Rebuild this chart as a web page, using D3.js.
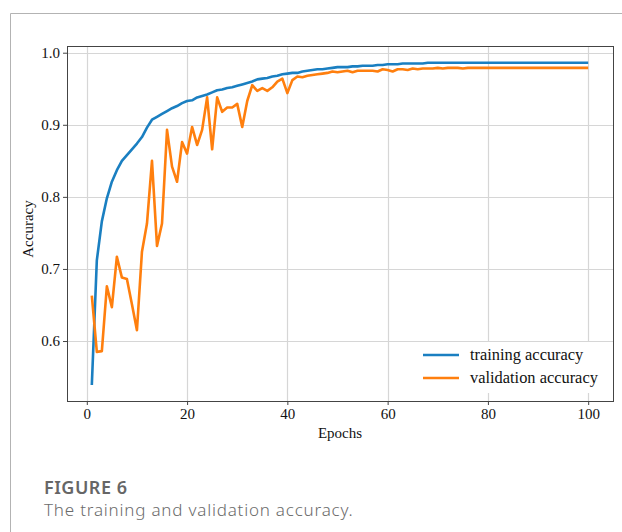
<!DOCTYPE html>
<html>
<head>
<meta charset="utf-8">
<script src="https://cdn.jsdelivr.net/npm/d3@7"></script>
<style>
  html, body { margin: 0; padding: 0; background: #fff; }
  svg { display: block; }
</style>
</head>
<body>
<div class="chart"></div>
<script>
'use strict';

/* data */
var epochs = d3.range(1, 101);

var trainAcc = [
  0.539, 0.712, 0.766, 0.798, 0.821, 0.837, 0.850, 0.858, 0.866, 0.874,
  0.883, 0.896, 0.907, 0.911, 0.915, 0.919, 0.923, 0.926, 0.930, 0.933,
  0.934, 0.938, 0.940, 0.942, 0.945, 0.948, 0.949, 0.951, 0.952, 0.954,
  0.956, 0.958, 0.960, 0.963, 0.964, 0.965, 0.967, 0.968, 0.970, 0.971,
  0.972, 0.972, 0.974, 0.975, 0.976, 0.977, 0.977, 0.978, 0.979, 0.980,
  0.980, 0.980, 0.981, 0.981, 0.982, 0.982, 0.982, 0.983, 0.983, 0.984,
  0.984, 0.984, 0.985, 0.985, 0.985, 0.985, 0.985, 0.986, 0.986, 0.986,
  0.986, 0.986, 0.986, 0.986, 0.986, 0.986, 0.986, 0.986, 0.986, 0.986,
  0.986, 0.986, 0.986, 0.986, 0.986, 0.986, 0.986, 0.986, 0.986, 0.986,
  0.986, 0.986, 0.986, 0.986, 0.986, 0.986, 0.986, 0.986, 0.986, 0.986
];

var valAcc = [
  0.663, 0.585, 0.586, 0.676, 0.647, 0.717, 0.688, 0.686, 0.651, 0.615,
  0.724, 0.763, 0.850, 0.732, 0.763, 0.893, 0.842, 0.821, 0.876, 0.860,
  0.897, 0.872, 0.893, 0.938, 0.866, 0.938, 0.918, 0.924, 0.924, 0.929,
  0.897, 0.933, 0.955, 0.947, 0.951, 0.947, 0.952, 0.960, 0.964, 0.944,
  0.962, 0.967, 0.966, 0.968, 0.969, 0.970, 0.971, 0.972, 0.974, 0.973,
  0.974, 0.975, 0.973, 0.975, 0.975, 0.975, 0.975, 0.974, 0.977, 0.976,
  0.974, 0.977, 0.977, 0.976, 0.978, 0.977, 0.978, 0.978, 0.978, 0.979,
  0.978, 0.979, 0.979, 0.979, 0.978, 0.979, 0.979, 0.979, 0.979, 0.979,
  0.979, 0.979, 0.979, 0.979, 0.979, 0.979, 0.979, 0.979, 0.979, 0.979,
  0.979, 0.979, 0.979, 0.979, 0.979, 0.979, 0.979, 0.979, 0.979, 0.979
];

var xTicks = [0, 20, 40, 60, 80, 100];
var yTicks = [0.6, 0.7, 0.8, 0.9, 1.0];

var seriesNames = ['training accuracy', 'validation accuracy'];
var seriesColors = ['#1a7fc1', '#ff7f0e'];

/* layout */
var width = 622,
    height = 532;
var plot = { left: 67, right: 613, top: 46, bottom: 401 };
var serif = '"Liberation Serif", "DejaVu Serif", serif';

var svg = d3.select('.chart')
  .append('svg')
  .attr('width', width)
  .attr('height', height);

// card frame (top + left)
svg.append('path')
  .attr('d', 'M10.5,532 L10.5,13.5 L622,13.5')
  .attr('fill', 'none')
  .attr('stroke', '#b3b3b3')
  .attr('stroke-width', 1);

var x = d3.scaleLinear().domain([-3.95, 104.95]).range([plot.left, plot.right]);
var y = d3.scaleLinear().domain([0.5168, 1.0093]).range([plot.bottom, plot.top]);

// grid
var grid = svg.append('g').attr('class', 'grid');
grid.selectAll('line.gx')
  .data(xTicks).enter()
  .append('line')
    .attr('class', 'gx')
    .attr('x1', function(d) { return Math.round(x(d)) + 0.5; })
    .attr('x2', function(d) { return Math.round(x(d)) + 0.5; })
    .attr('y1', plot.top)
    .attr('y2', plot.bottom)
    .attr('stroke', '#d6d6d6')
    .attr('stroke-width', 1.2);
grid.selectAll('line.gy')
  .data(yTicks).enter()
  .append('line')
    .attr('class', 'gy')
    .attr('x1', plot.left)
    .attr('x2', plot.right)
    .attr('y1', function(d) { return Math.round(y(d)) + 0.5; })
    .attr('y2', function(d) { return Math.round(y(d)) + 0.5; })
    .attr('stroke', '#d6d6d6')
    .attr('stroke-width', 1.2);

// lines
var line = d3.line()
  .x(function(d) { return x(d[0]); })
  .y(function(d) { return y(d[1]); });

[trainAcc, valAcc].forEach(function(vals, i) {
  svg.append('path')
    .datum(epochs.map(function(e, k) { return [e, vals[k]]; }))
    .attr('fill', 'none')
    .attr('stroke', seriesColors[i])
    .attr('stroke-width', 2.6)
    .attr('stroke-linejoin', 'round')
    .attr('d', line);
});

// axes
var xAxis = svg.append('g')
  .attr('transform', 'translate(0,' + plot.bottom + ')')
  .call(d3.axisBottom(x).tickValues(xTicks).tickSize(4).tickPadding(3));
var yAxis = svg.append('g')
  .attr('transform', 'translate(' + plot.left + ',0)')
  .call(d3.axisLeft(y).tickValues(yTicks).tickFormat(d3.format('.1f')).tickSize(4).tickPadding(3));

[xAxis, yAxis].forEach(function(g) {
  g.select('.domain').remove();
  g.selectAll('line').attr('stroke', '#444');
  g.selectAll('text')
    .attr('fill', '#111')
    .style('font-family', serif)
    .style('font-size', '15px');
});

// spines
svg.append('rect')
  .attr('x', plot.left + 0.5)
  .attr('y', plot.top + 0.5)
  .attr('width', plot.right - plot.left)
  .attr('height', plot.bottom - plot.top)
  .attr('fill', 'none')
  .attr('stroke', '#444')
  .attr('stroke-width', 1);

// axis titles
svg.append('text')
  .attr('x', (plot.left + plot.right) / 2)
  .attr('y', 438)
  .attr('text-anchor', 'middle')
  .style('font-family', serif)
  .style('font-size', '15px')
  .attr('fill', '#111')
  .text('Epochs');

svg.append('text')
  .attr('transform', 'translate(33,229) rotate(-90)')
  .attr('text-anchor', 'middle')
  .style('font-family', serif)
  .style('font-size', '15px')
  .attr('fill', '#111')
  .text('Accuracy');

// legend
var legend = svg.append('g').attr('transform', 'translate(414,342)');
legend.append('rect')
  .attr('width', 197)
  .attr('height', 51)
  .attr('fill', '#fff');
legend.selectAll('g.item')
  .data(seriesNames).enter()
  .append('g')
    .attr('class', 'item')
    .attr('transform', function(d, i) { return 'translate(0,' + (13 + i * 23) + ')'; })
  .each(function(d, i) {
    var g = d3.select(this);
    g.append('line')
      .attr('x1', 9).attr('x2', 45)
      .attr('stroke', seriesColors[i])
      .attr('stroke-width', 2.6);
    g.append('text')
      .attr('x', 56)
      .attr('dy', '0.32em')
      .style('font-family', serif)
      .style('font-size', '16.4px')
      .attr('fill', '#111')
      .text(d);
  });

// caption
svg.append('text')
  .attr('x', 44)
  .attr('y', 494)
  .style('font-family', '"Noto Sans", "Open Sans", sans-serif')
  .style('font-size', '18px')
  .style('font-weight', 600)
  .style('letter-spacing', '0.5px')
  .attr('fill', '#666')
  .text('FIGURE 6');

svg.append('text')
  .attr('x', 44)
  .attr('y', 516)
  .style('font-family', '"Noto Sans", "Open Sans", sans-serif')
  .style('font-size', '17px')
  .style('font-weight', 300)
  .style('letter-spacing', '0.8px')
  .attr('fill', '#6b6b6b')
  .text('The training and validation accuracy.');
</script>
</body>
</html>
